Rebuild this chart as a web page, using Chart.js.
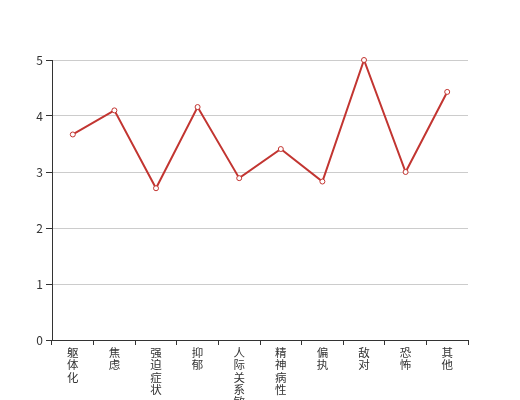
<!DOCTYPE html>
<html>
<head>
<meta charset="utf-8">
<script src="https://cdn.jsdelivr.net/npm/chart.js@4/dist/chart.umd.min.js"></script>
<style>
  html, body { margin: 0; padding: 0; background: #fff; }
  #chart { display: block; }
</style>
</head>
<body>
<canvas id="chart" width="520" height="400"></canvas>
<script>
const categories = ['躯体化', '焦虑', '强迫症状', '抑郁', '人际关系敏感', '精神病性', '偏执', '敌对', '恐怖', '其他'];
const scores = [3.67, 4.1, 2.71, 4.16, 2.89, 3.41, 2.83, 5.0, 3.0, 4.43];
const yTicks = [0, 1, 2, 3, 4, 5];

const fontFamily = '"Noto Sans CJK SC", sans-serif';

// stack the characters vertically, like the original
const labels = categories.map((c) => c.split(''));

const ctx = document.getElementById('chart').getContext('2d');
new Chart(ctx, {
  type: 'line',
  data: {
    labels: labels,
    datasets: [{
      data: scores,
      borderColor: '#c23531',
      borderWidth: 2,
      pointRadius: 2.5,
      pointBorderWidth: 1,
      pointBackgroundColor: '#fff',
      pointBorderColor: '#c23531',
      tension: 0,
      clip: false,
    }],
  },
  options: {
    responsive: false,
    animation: false,
    layout: { padding: { top: 60, right: 52, left: 0, bottom: 0 } },
    plugins: { legend: { display: false }, tooltip: { enabled: false } },
    scales: {
      x: {
        offset: true,
        grid: {
          offset: true,
          drawOnChartArea: false,
          drawTicks: true,
          tickLength: 5,
          tickColor: '#333',
        },
        border: { color: '#333', width: 1 },
        ticks: {
          color: '#333',
          font: { family: fontFamily, size: 11.5, lineHeight: 1.05 },
          maxRotation: 0,
          minRotation: 0,
          autoSkip: false,
          padding: 2,
        },
        afterFit: (scale) => { scale.height = 60; },
      },
      y: {
        min: 0,
        max: 5,
        afterBuildTicks: (scale) => { scale.ticks = yTicks.map((v) => ({ value: v })); },
        grid: {
          color: '#ccc',
          tickColor: '#333',
          tickLength: 6,
        },
        border: { color: '#333', width: 1 },
        ticks: { color: '#333', font: { family: fontFamily, size: 12 }, padding: 3 },
        afterFit: (scale) => { scale.width = 52; },
      },
    },
  },
});
</script>
</body>
</html>
